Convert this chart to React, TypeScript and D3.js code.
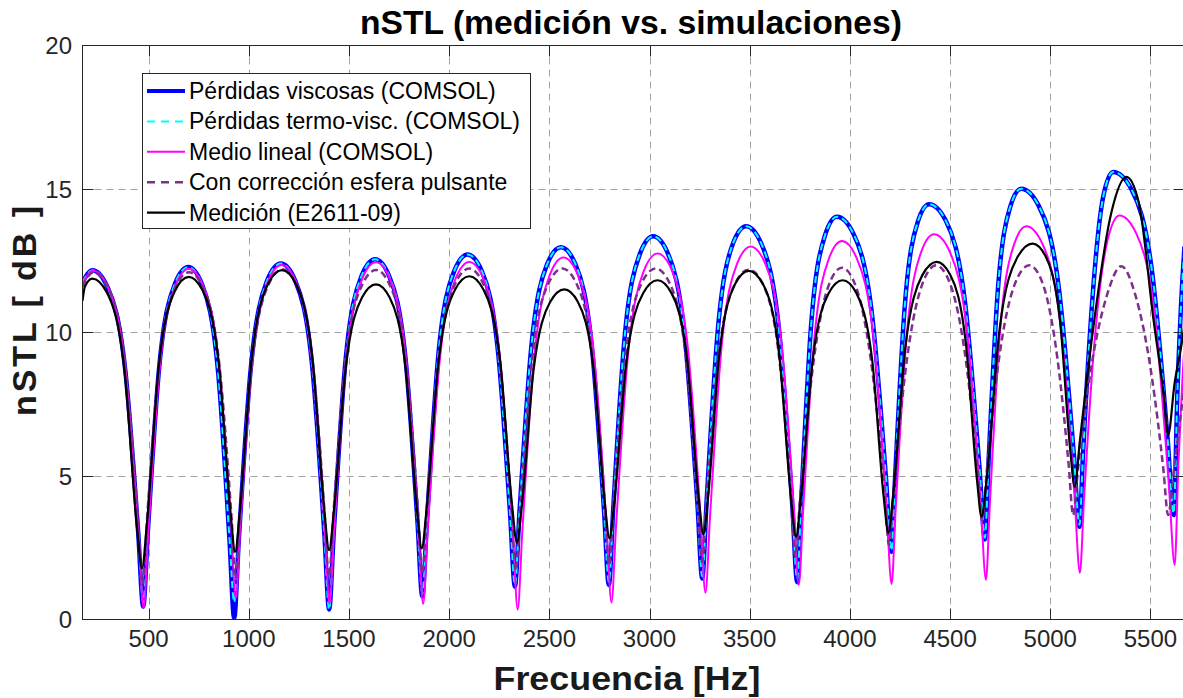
import React, { useRef, useEffect } from "react";
import * as d3 from "d3";

type Pt = [number, number];

// ejes
const xTicks = [500, 1000, 1500, 2000, 2500, 3000, 3500, 4000, 4500, 5000, 5500];
const yTicks = [0, 5, 10, 15, 20];

// [frecuencia Hz, nSTL dB]
const perdidasViscosas: Pt[] = [
  [170, 11.75], [219, 12.17], [295, 11.58], [384, 8.65], [448, 3.03], [473, 0.45],
  [496, 3.05], [552, 8.73], [631, 11.69], [698, 12.28], [767, 11.67], [847, 8.61], [904, 2.73], [927, 0.04],
  [950, 2.76], [1009, 8.69], [1090, 11.78], [1160, 12.4], [1232, 11.8], [1317, 8.79], [1377, 3.0], [1401, 0.35],
  [1424, 3.03], [1481, 8.89], [1561, 11.94], [1630, 12.55], [1701, 11.96], [1783, 9.03], [1842, 3.39], [1866, 0.8],
  [1889, 3.42], [1945, 9.14], [2024, 12.12], [2092, 12.72], [2163, 12.14], [2245, 9.25], [2304, 3.69], [2328, 1.14],
  [2351, 3.74], [2409, 9.42], [2489, 12.38], [2558, 12.97], [2630, 12.38], [2713, 9.44], [2773, 3.79], [2797, 1.2],
  [2819, 3.87], [2874, 9.7], [2952, 12.74], [3018, 13.35], [3092, 12.75], [3177, 9.77], [3239, 4.05], [3263, 1.43],
  [3285, 4.13], [3340, 10.02], [3416, 13.09], [3482, 13.7], [3559, 13.08], [3648, 9.98], [3712, 4.03], [3737, 1.3],
  [3757, 4.1], [3806, 10.21], [3876, 13.39], [3935, 14.03], [4017, 13.45], [4112, 10.53], [4180, 4.93], [4207, 2.36],
  [4226, 5.02], [4273, 10.84], [4339, 13.86], [4395, 14.47], [4479, 13.89], [4576, 10.97], [4646, 5.36], [4674, 2.79],
  [4692, 5.48], [4737, 11.34], [4801, 14.4], [4855, 15.01], [4942, 14.42], [5044, 11.48], [5117, 5.82], [5146, 3.23],
  [5163, 5.7], [5205, 10.65], [5264, 14.72], [5314, 15.59], [5405, 14.99], [5510, 12.01], [5586, 6.27], [5616, 3.64],
  [5635, 8.0], [5660, 11.9], [5670, 13.0],
];

const perdidasTermoVisc: Pt[] = [
  [170, 11.75], [219, 12.17], [295, 11.58], [384, 8.65], [448, 3.03], [473, 0.6],
  [496, 3.05], [552, 8.73], [631, 11.69], [698, 12.28], [767, 11.67], [847, 8.61], [904, 2.8], [927, 0.6],
  [950, 2.8], [1009, 8.69], [1090, 11.78], [1160, 12.4], [1232, 11.8], [1317, 8.79], [1377, 3.0], [1401, 0.35],
  [1424, 3.03], [1481, 8.89], [1561, 11.94], [1630, 12.55], [1701, 11.96], [1783, 9.03], [1842, 3.39], [1866, 0.9],
  [1889, 3.42], [1945, 9.14], [2024, 12.12], [2092, 12.72], [2163, 12.14], [2245, 9.25], [2304, 3.69], [2328, 1.2],
  [2351, 3.74], [2409, 9.42], [2489, 12.38], [2558, 12.97], [2630, 12.38], [2713, 9.44], [2773, 3.79], [2797, 1.3],
  [2819, 3.87], [2874, 9.7], [2952, 12.74], [3018, 13.35], [3092, 12.75], [3177, 9.77], [3239, 4.05], [3263, 1.5],
  [3285, 4.13], [3340, 10.02], [3416, 13.09], [3482, 13.7], [3559, 13.08], [3648, 9.98], [3712, 4.03], [3737, 1.4],
  [3757, 4.1], [3806, 10.21], [3876, 13.39], [3935, 14.03], [4017, 13.45], [4112, 10.53], [4180, 4.93], [4207, 2.4],
  [4226, 5.02], [4273, 10.84], [4339, 13.86], [4395, 14.47], [4479, 13.89], [4576, 10.97], [4646, 5.36], [4674, 2.85],
  [4692, 5.48], [4737, 11.34], [4801, 14.4], [4855, 15.01], [4942, 14.42], [5044, 11.48], [5117, 5.82], [5146, 3.3],
  [5163, 5.7], [5205, 10.65], [5264, 14.72], [5314, 15.59], [5405, 14.99], [5510, 12.01], [5586, 6.27], [5616, 3.7],
  [5635, 8.0], [5660, 11.9], [5670, 13.0],
];

const medioLineal: Pt[] = [
  [170, 11.7], [222, 12.15], [298, 11.56], [386, 8.62], [450, 2.98], [475, 0.39],
  [498, 2.99], [554, 8.67], [633, 11.63], [700, 12.22], [771, 11.65], [853, 8.78], [912, 3.27], [935, 0.75],
  [958, 3.3], [1015, 8.87], [1095, 11.77], [1164, 12.35], [1236, 11.76], [1319, 8.81], [1379, 3.15], [1403, 0.55],
  [1426, 3.17], [1484, 8.88], [1565, 11.86], [1635, 12.45], [1706, 11.85], [1788, 8.88], [1847, 3.16], [1870, 0.54],
  [1893, 3.16], [1951, 8.88], [2031, 11.86], [2100, 12.46], [2173, 11.85], [2257, 8.83], [2318, 3.01], [2342, 0.35],
  [2365, 3.05], [2422, 8.93], [2502, 12.0], [2570, 12.61], [2642, 12.01], [2726, 9.0], [2786, 3.23], [2810, 0.59],
  [2833, 3.27], [2891, 9.1], [2971, 12.14], [3040, 12.75], [3112, 12.16], [3195, 9.2], [3255, 3.53], [3279, 0.93],
  [3302, 3.59], [3358, 9.38], [3437, 12.4], [3505, 13.0], [3577, 12.41], [3661, 9.46], [3721, 3.8], [3745, 1.2],
  [3767, 3.84], [3820, 9.59], [3896, 12.59], [3960, 13.19], [4034, 12.59], [4121, 9.61], [4183, 3.87], [4208, 1.24],
  [4229, 3.92], [4282, 9.77], [4356, 12.81], [4420, 13.42], [4498, 12.82], [4588, 9.81], [4653, 4.03], [4679, 1.38],
  [4699, 4.09], [4749, 10.0], [4820, 13.08], [4880, 13.7], [4960, 13.1], [5054, 10.08], [5121, 4.29], [5148, 1.63],
  [5168, 4.12], [5217, 9.35], [5286, 13.21], [5345, 14.08], [5428, 13.47], [5524, 10.43], [5593, 4.58], [5621, 1.9],
  [5640, 5.5], [5660, 8.4], [5670, 9.6],
];

const correccionEsfera: Pt[] = [
  [170, 11.6], [225, 12.1], [299, 11.56], [384, 8.83], [446, 3.6], [470, 1.2],
  [493, 3.6], [551, 8.83], [632, 11.56], [702, 12.1], [772, 11.57], [853, 8.89], [912, 3.75], [935, 1.4],
  [958, 3.78], [1017, 8.96], [1098, 11.66], [1168, 12.2], [1238, 11.67], [1319, 8.99], [1377, 3.85], [1400, 1.5],
  [1424, 3.85], [1482, 8.98], [1565, 11.65], [1635, 12.18], [1704, 11.65], [1785, 9.01], [1843, 3.93], [1866, 1.6],
  [1889, 3.94], [1948, 9.04], [2030, 11.7], [2100, 12.23], [2170, 11.7], [2251, 9.07], [2310, 4.02], [2333, 1.7],
  [2356, 4.02], [2414, 9.07], [2495, 11.7], [2565, 12.23], [2635, 11.71], [2716, 9.13], [2775, 4.17], [2798, 1.9],
  [2821, 4.17], [2879, 9.13], [2960, 11.71], [3030, 12.23], [3100, 11.72], [3181, 9.16], [3239, 4.25], [3262, 2.0],
  [3285, 4.24], [3344, 9.13], [3425, 11.68], [3495, 12.19], [3565, 11.69], [3646, 9.19], [3705, 4.4], [3728, 2.2],
  [3751, 4.21], [3809, 8.44], [3890, 11.56], [3960, 12.26], [4031, 11.58], [4113, 8.59], [4172, 4.53], [4195, 2.6],
  [4219, 4.55], [4277, 8.64], [4360, 11.66], [4430, 12.34], [4499, 11.72], [4580, 8.97], [4637, 5.24], [4660, 3.46],
  [4684, 5.24], [4742, 8.97], [4825, 11.72], [4895, 12.34], [4961, 11.73], [5037, 9.03], [5092, 5.38], [5114, 3.64],
  [5138, 5.2], [5198, 8.5], [5283, 11.3], [5355, 12.31], [5425, 11.3], [5506, 8.5], [5565, 5.2], [5588, 3.64],
  [5620, 5.4], [5660, 7.6], [5670, 8.1],
];

const medicion: Pt[] = [
  [170, 11.1], [182, 11.6], [219, 11.88], [293, 11.38], [380, 8.65], [442, 3.19], [467, 1.78],
  [490, 3.2], [549, 8.69], [630, 11.43], [700, 11.94], [770, 11.46], [851, 8.87], [909, 3.7], [932, 2.36],
  [955, 3.73], [1014, 9.03], [1095, 11.68], [1165, 12.17], [1236, 11.68], [1318, 9.05], [1377, 3.79], [1401, 2.42],
  [1424, 3.72], [1483, 8.72], [1565, 11.22], [1635, 11.68], [1703, 11.22], [1783, 8.74], [1840, 3.77], [1863, 2.48],
  [1887, 3.81], [1946, 8.93], [2029, 11.49], [2100, 11.96], [2171, 11.5], [2255, 8.99], [2314, 3.98], [2338, 2.68],
  [2362, 3.91], [2421, 8.68], [2504, 11.06], [2575, 11.5], [2642, 11.07], [2721, 8.73], [2777, 4.04], [2800, 2.83],
  [2824, 4.09], [2884, 8.94], [2968, 11.37], [3040, 11.82], [3109, 11.38], [3189, 8.99], [3246, 4.21], [3269, 2.97],
  [3292, 4.26], [3348, 9.21], [3427, 11.69], [3495, 12.15], [3566, 11.69], [3648, 9.18], [3707, 4.18], [3731, 2.88],
  [3754, 4.13], [3813, 8.96], [3894, 11.37], [3964, 11.82], [4032, 11.38], [4112, 9.0], [4169, 4.25], [4192, 3.02],
  [4216, 4.34], [4276, 9.44], [4361, 11.99], [4433, 12.46], [4500, 12.02], [4579, 9.62], [4635, 4.82], [4657, 3.58],
  [4683, 4.91], [4746, 10.05], [4836, 12.62], [4912, 13.1], [4975, 12.68], [5049, 10.39], [5101, 5.81], [5122, 4.62],
  [5148, 6.24], [5212, 10.02], [5303, 14.12], [5380, 15.42], [5442, 14.52], [5515, 10.47], [5567, 7.77], [5588, 6.42],
  [5620, 8.2], [5660, 9.8], [5670, 10.3],
];

const legendLabels = [
  "Pérdidas viscosas (COMSOL)",
  "Pérdidas termo-visc. (COMSOL)",
  "Medio lineal (COMSOL)",
  "Con corrección esfera pulsante",
  "Medición (E2611-09)",
];

const FONT = "'Liberation Sans', Arial, Helvetica, sans-serif";
const AXIS = "#262626";

const App = () => {
  const svgRef = useRef<SVGSVGElement>(null);

  useEffect(() => {
    if (!svgRef.current) return;
    const svg = d3.select(svgRef.current);
    svg.selectAll("*").remove();

    // el borde derecho del eje queda justo fuera de la imagen
    const left = 82.5, right = 1184.5, top = 45.5, bottom = 619.5;

    const x = d3.scaleLinear().domain([170, 5670]).range([left, right]);
    const y = d3.scaleLinear().domain([0, 20]).range([bottom, top]);

    svg.append("rect").attr("width", 1183).attr("height", 698).attr("fill", "#fff");

    // rejilla
    const grid = svg.append("g").attr("stroke", "#a3a3a3").attr("stroke-width", 1).attr("stroke-dasharray", "7 5");
    xTicks.forEach((t) => {
      const px = Math.round(x(t)) + 0.5;
      grid.append("line").attr("x1", px).attr("x2", px).attr("y1", top).attr("y2", bottom);
    });
    yTicks.forEach((t) => {
      const py = Math.round(y(t) - 0.5) + 0.5;
      grid.append("line").attr("x1", left).attr("x2", right).attr("y1", py).attr("y2", py);
    });

    // curvas
    svg.append("clipPath").attr("id", "plot-clip")
      .append("rect").attr("x", left).attr("y", top).attr("width", right - left).attr("height", bottom - top);

    const line = d3.line<Pt>().x((d) => x(d[0])).y((d) => y(d[1])).curve(d3.curveMonotoneX);

    const series = [
      { data: perdidasViscosas, color: "#0000ff", width: 4.5, dash: null },
      { data: perdidasTermoVisc, color: "#00ffff", width: 2, dash: "7 4" },
      { data: medioLineal, color: "#ff00ff", width: 2, dash: null },
      { data: correccionEsfera, color: "#7e2f8e", width: 2.5, dash: "7 4" },
      { data: medicion, color: "#000000", width: 2.2, dash: null },
    ];

    const plot = svg.append("g").attr("clip-path", "url(#plot-clip)");
    series.forEach((s) => {
      plot.append("path")
        .datum(s.data)
        .attr("d", line)
        .attr("fill", "none")
        .attr("stroke", s.color)
        .attr("stroke-width", s.width)
        .attr("stroke-linejoin", "round")
        .attr("stroke-dasharray", s.dash);
    });

    // marco y marcas
    const box = svg.append("g").attr("stroke", AXIS).attr("stroke-width", 1);
    box.append("rect").attr("x", left).attr("y", top).attr("width", right - left).attr("height", bottom - top).attr("fill", "none");
    xTicks.forEach((t) => {
      const px = Math.round(x(t)) + 0.5;
      box.append("line").attr("x1", px).attr("x2", px).attr("y1", bottom).attr("y2", bottom - 11);
      box.append("line").attr("x1", px).attr("x2", px).attr("y1", top).attr("y2", top + 11);
    });
    yTicks.forEach((t) => {
      const py = Math.round(y(t) - 0.5) + 0.5;
      box.append("line").attr("x1", left).attr("x2", left + 11).attr("y1", py).attr("y2", py);
      box.append("line").attr("x1", right).attr("x2", right - 11).attr("y1", py).attr("y2", py);
    });

    svg.append("g").selectAll("text").data(xTicks).enter().append("text")
      .attr("x", (d) => x(d)).attr("y", 647)
      .attr("text-anchor", "middle")
      .style("font-family", FONT).style("font-size", "24px").style("fill", AXIS)
      .text((d) => d);

    svg.append("g").selectAll("text").data(yTicks).enter().append("text")
      .attr("x", 72).attr("y", (d) => y(d) + 8.5)
      .attr("text-anchor", "end")
      .style("font-family", FONT).style("font-size", "24px").style("fill", AXIS)
      .text((d) => d);

    // títulos
    svg.append("text").attr("x", 631).attr("y", 34).attr("text-anchor", "middle")
      .attr("textLength", 542).attr("lengthAdjust", "spacingAndGlyphs")
      .style("font-family", FONT).style("font-size", "33px").style("font-weight", "bold").style("fill", "#000")
      .text("nSTL (medición vs. simulaciones)");

    svg.append("text").attr("x", 627).attr("y", 690).attr("text-anchor", "middle")
      .attr("textLength", 267).attr("lengthAdjust", "spacingAndGlyphs")
      .style("font-family", FONT).style("font-size", "34px").style("font-weight", "bold").style("fill", "#1a1a1a")
      .text("Frecuencia [Hz]");

    svg.append("text").attr("transform", "translate(36,311) rotate(-90)").attr("text-anchor", "middle")
      .attr("textLength", 210).attr("lengthAdjust", "spacing")
      .style("font-family", FONT).style("font-size", "34px").style("font-weight", "bold").style("fill", "#1a1a1a")
      .text("nSTL [ dB ]");

    // leyenda
    const lg = svg.append("g");
    lg.append("rect").attr("x", 142.5).attr("y", 73.5).attr("width", 388).attr("height", 155)
      .attr("fill", "#fff").attr("stroke", AXIS).attr("stroke-width", 1);
    series.forEach((s, i) => {
      const cy = 91 + i * 30.4;
      lg.append("line").attr("x1", 147).attr("x2", 185).attr("y1", cy).attr("y2", cy)
        .attr("stroke", s.color).attr("stroke-width", s.width === 4.5 ? 4 : s.width)
        .attr("stroke-dasharray", s.dash ? "8 6" : null);
      lg.append("text").attr("x", 189).attr("y", cy + 8)
        .style("font-family", FONT).style("font-size", "23px").style("fill", "#000")
        .text(legendLabels[i]);
    });
  }, []);

  return (
    <svg
      ref={svgRef}
      width={1183}
      height={698}
      style={{ position: "absolute", left: 0, top: 0, display: "block" }}
    />
  );
};

export default App;
